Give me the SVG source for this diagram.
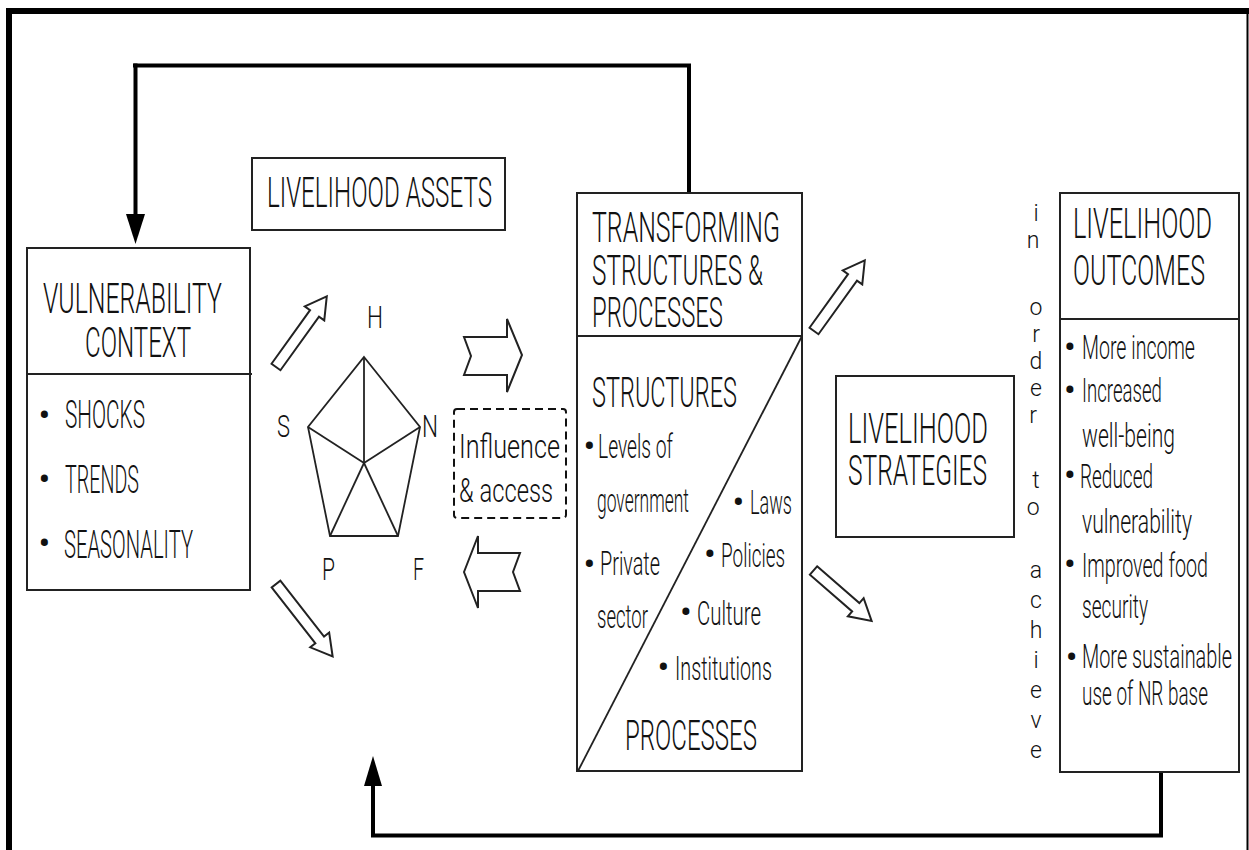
<svg xmlns="http://www.w3.org/2000/svg" width="1249" height="850" viewBox="0 0 1249 850">
<style>
.t{font-family:Roboto,"DejaVu Sans Condensed","Liberation Sans",sans-serif;font-weight:300;fill:#111}
.h{font-size:42px}
.m{font-size:34px}
.s{font-size:33px}
.bu{font-family:Roboto,"Liberation Sans",sans-serif;font-size:35px;font-weight:400;fill:#111;text-anchor:middle}
.box{fill:#fff;stroke:#222;stroke-width:2}
.ln{fill:none;stroke:#222;stroke-width:1.8}
.fb{fill:none;stroke:#000;stroke-width:4}
.ha{fill:#fff;stroke:#222;stroke-width:2;stroke-linejoin:miter}
</style>
<defs>
<polygon id="arr87" points="0,-5.5 66,-5.5 66,-12 87,0 66,12 66,5.5 0,5.5"/>
<polygon id="arr92" points="0,-5.5 71,-5.5 71,-12 92,0 71,12 71,5.5 0,5.5"/>
<polygon id="arr77" points="0,-5.5 56,-5.5 56,-12 77,0 56,12 56,5.5 0,5.5"/>
</defs>
<rect width="1249" height="850" fill="#fff"/>
<g id="frame">
<rect x="6" y="8" width="1243" height="6" fill="#000"/>
<rect x="6" y="8" width="6" height="842" fill="#000"/>
<line x1="1247.5" y1="14" x2="1247.5" y2="850" stroke="#000" stroke-width="2"/>
</g>
<g id="connectors">
<polyline class="fb" points="689,193 689,65.5 133,65.5"/>
<line class="fb" x1="135.5" y1="63.5" x2="135.5" y2="216"/>
<polygon points="126,214 145,214 135.5,244" fill="#000"/>
<polyline class="fb" points="1161,772 1161,835.5 371,835.5"/>
<line class="fb" x1="373" y1="837" x2="373" y2="784"/>
<polygon points="364,786 382,786 373,756" fill="#000"/>
<use href="#arr87" class="ha" transform="translate(276,367) rotate(-54.3)"/>
<use href="#arr92" class="ha" transform="translate(276,584) rotate(52)"/>
<use href="#arr87" class="ha" transform="translate(814,331) rotate(-54.3)"/>
<use href="#arr77" class="ha" transform="translate(813.5,570.5) rotate(41)"/>
<polygon class="ha" points="464,337 507,337 507,319 522,355 507,392 507,375 464,375 471,356"/>
<polygon class="ha" points="464,572 478,536 478,553 520,553 513,572 520,591 478,591 478,608"/>
</g>
<g id="livelihood-assets">
<rect class="box" x="252" y="158" width="253" height="72"/>
<text class="t h" transform="translate(267,207) scale(0.6,1)" textLength="375" lengthAdjust="spacingAndGlyphs">LIVELIHOOD ASSETS</text>
</g>
<g id="vulnerability-context">
<rect class="box" x="27" y="248" width="223" height="342"/>
<line class="ln" x1="27" y1="374" x2="252" y2="374"/>
<text class="t h" transform="translate(43,313) scale(0.6,1)" textLength="298.3" lengthAdjust="spacingAndGlyphs">VULNERABILITY</text>
<text class="t h" transform="translate(85,357) scale(0.6,1)" textLength="176.7" lengthAdjust="spacingAndGlyphs">CONTEXT</text>
<text class="bu" x="44.5" y="427">•</text>
<text class="t" font-size="38" transform="translate(65,428) scale(0.6,1)" textLength="133.3" lengthAdjust="spacingAndGlyphs">SHOCKS</text>
<text class="bu" x="44.5" y="491">•</text>
<text class="t" font-size="38" transform="translate(65,493) scale(0.6,1)" textLength="123.3" lengthAdjust="spacingAndGlyphs">TRENDS</text>
<text class="bu" x="44.5" y="555">•</text>
<text class="t" font-size="38" transform="translate(64,558) scale(0.6,1)" textLength="215" lengthAdjust="spacingAndGlyphs">SEASONALITY</text>
</g>
<g id="asset-pentagon">
<polygon class="ln" points="364,357 420,427 398,536 330,536 308,427"/>
<line class="ln" x1="364" y1="463" x2="364" y2="357"/>
<line class="ln" x1="364" y1="463" x2="420" y2="427"/>
<line class="ln" x1="364" y1="463" x2="398" y2="536"/>
<line class="ln" x1="364" y1="463" x2="330" y2="536"/>
<line class="ln" x1="364" y1="463" x2="308" y2="427"/>
<text class="t" font-size="31" x="367" y="328" textLength="16" lengthAdjust="spacingAndGlyphs">H</text>
<text class="t" font-size="31" x="277" y="437" textLength="13" lengthAdjust="spacingAndGlyphs">S</text>
<text class="t" font-size="31" x="422" y="437" textLength="16" lengthAdjust="spacingAndGlyphs">N</text>
<text class="t" font-size="31" x="322" y="580" textLength="13" lengthAdjust="spacingAndGlyphs">P</text>
<text class="t" font-size="31" x="413" y="580" textLength="11" lengthAdjust="spacingAndGlyphs">F</text>
</g>
<g id="influence-access">
<rect x="454" y="409" width="112" height="109" rx="3" fill="none" stroke="#111" stroke-width="2" stroke-dasharray="8 5"/>
<text class="t s" transform="translate(459,458) scale(0.52,1)" textLength="194.2" lengthAdjust="spacingAndGlyphs">Influence</text>
<text class="t s" transform="translate(459,502) scale(0.52,1)" textLength="180.8" lengthAdjust="spacingAndGlyphs">&amp; access</text>
</g>
<g id="transforming-structures">
<rect class="box" x="577" y="193" width="225" height="578"/>
<line class="ln" x1="577" y1="336" x2="802" y2="336"/>
<line class="ln" x1="802" y1="336" x2="578" y2="771"/>
<text class="t h" transform="translate(592,242) scale(0.6,1)" textLength="313.3" lengthAdjust="spacingAndGlyphs">TRANSFORMING</text>
<text class="t h" transform="translate(592,285) scale(0.6,1)" textLength="285" lengthAdjust="spacingAndGlyphs">STRUCTURES &amp;</text>
<text class="t h" transform="translate(592,327) scale(0.6,1)" textLength="218.3" lengthAdjust="spacingAndGlyphs">PROCESSES</text>
<text class="t h" transform="translate(592,407) scale(0.6,1)" textLength="241.7" lengthAdjust="spacingAndGlyphs">STRUCTURES</text>
<text class="bu" x="589.3" y="458">•</text>
<text class="t m" transform="translate(598,458) scale(0.52,1)" textLength="144.2" lengthAdjust="spacingAndGlyphs">Levels of</text>
<text class="t m" transform="translate(597,512) scale(0.52,1)" textLength="176.9" lengthAdjust="spacingAndGlyphs">government</text>
<text class="bu" x="738.3" y="514">•</text>
<text class="t m" transform="translate(750,514) scale(0.52,1)" textLength="80.8" lengthAdjust="spacingAndGlyphs">Laws</text>
<text class="bu" x="589.3" y="576">•</text>
<text class="t m" transform="translate(600,575) scale(0.52,1)" textLength="115.4" lengthAdjust="spacingAndGlyphs">Private</text>
<text class="bu" x="710" y="566">•</text>
<text class="t m" transform="translate(721,567) scale(0.52,1)" textLength="123.1" lengthAdjust="spacingAndGlyphs">Policies</text>
<text class="t m" transform="translate(597,628) scale(0.52,1)" textLength="98.1" lengthAdjust="spacingAndGlyphs">sector</text>
<text class="bu" x="686" y="624">•</text>
<text class="t m" transform="translate(697,625) scale(0.52,1)" textLength="123.1" lengthAdjust="spacingAndGlyphs">Culture</text>
<text class="bu" x="663.3" y="679">•</text>
<text class="t m" transform="translate(675,680) scale(0.52,1)" textLength="186.5" lengthAdjust="spacingAndGlyphs">Institutions</text>
<text class="t h" transform="translate(625,750) scale(0.6,1)" textLength="220" lengthAdjust="spacingAndGlyphs">PROCESSES</text>
</g>
<g id="livelihood-strategies">
<rect class="box" x="836" y="376" width="178" height="161"/>
<text class="t h" transform="translate(848,443) scale(0.6,1)" textLength="233.3" lengthAdjust="spacingAndGlyphs">LIVELIHOOD</text>
<text class="t h" transform="translate(848,485) scale(0.6,1)" textLength="231.7" lengthAdjust="spacingAndGlyphs">STRATEGIES</text>
</g>
<g id="in-order-to-achieve">
<text class="t" font-size="23" text-anchor="middle">
<tspan x="1036" y="221">i</tspan><tspan x="1036" y="248">n</tspan>
<tspan x="1036" y="315">o</tspan><tspan x="1036" y="342">r</tspan><tspan x="1036" y="369">d</tspan><tspan x="1036" y="396">e</tspan><tspan x="1036" y="423">r</tspan>
<tspan x="1036" y="488">t</tspan><tspan x="1036" y="515">o</tspan>
<tspan x="1036" y="578">a</tspan><tspan x="1036" y="608">c</tspan><tspan x="1036" y="638">h</tspan><tspan x="1036" y="668">i</tspan><tspan x="1036" y="698">e</tspan><tspan x="1036" y="728">v</tspan><tspan x="1036" y="758">e</tspan>
</text>
</g>
<g id="livelihood-outcomes">
<rect class="box" x="1060" y="193" width="179" height="579"/>
<line class="ln" x1="1060" y1="319" x2="1239" y2="319"/>
<text class="t h" transform="translate(1073,238) scale(0.6,1)" textLength="231.7" lengthAdjust="spacingAndGlyphs">LIVELIHOOD</text>
<text class="t h" transform="translate(1073,285) scale(0.6,1)" textLength="220" lengthAdjust="spacingAndGlyphs">OUTCOMES</text>
<text class="bu" x="1070" y="359">•</text>
<text class="t s" transform="translate(1082,359) scale(0.52,1)" textLength="217.3" lengthAdjust="spacingAndGlyphs">More income</text>
<text class="bu" x="1070" y="402">•</text>
<text class="t s" transform="translate(1082,402) scale(0.52,1)" textLength="153.8" lengthAdjust="spacingAndGlyphs">Increased</text>
<text class="t s" transform="translate(1082,447) scale(0.52,1)" textLength="178.8" lengthAdjust="spacingAndGlyphs">well-being</text>
<text class="bu" x="1070" y="487">•</text>
<text class="t s" transform="translate(1080,488) scale(0.52,1)" textLength="140.4" lengthAdjust="spacingAndGlyphs">Reduced</text>
<text class="t s" transform="translate(1082,533) scale(0.52,1)" textLength="211.5" lengthAdjust="spacingAndGlyphs">vulnerability</text>
<text class="bu" x="1070" y="576">•</text>
<text class="t s" transform="translate(1082,577) scale(0.52,1)" textLength="242.3" lengthAdjust="spacingAndGlyphs">Improved food</text>
<text class="t s" transform="translate(1082,618) scale(0.52,1)" textLength="126.9" lengthAdjust="spacingAndGlyphs">security</text>
<text class="bu" x="1071.7" y="669">•</text>
<text class="t s" transform="translate(1082,668) scale(0.52,1)" textLength="288.5" lengthAdjust="spacingAndGlyphs">More sustainable</text>
<text class="t s" transform="translate(1082,705) scale(0.52,1)" textLength="242.3" lengthAdjust="spacingAndGlyphs">use of NR base</text>
</g>
</svg>
